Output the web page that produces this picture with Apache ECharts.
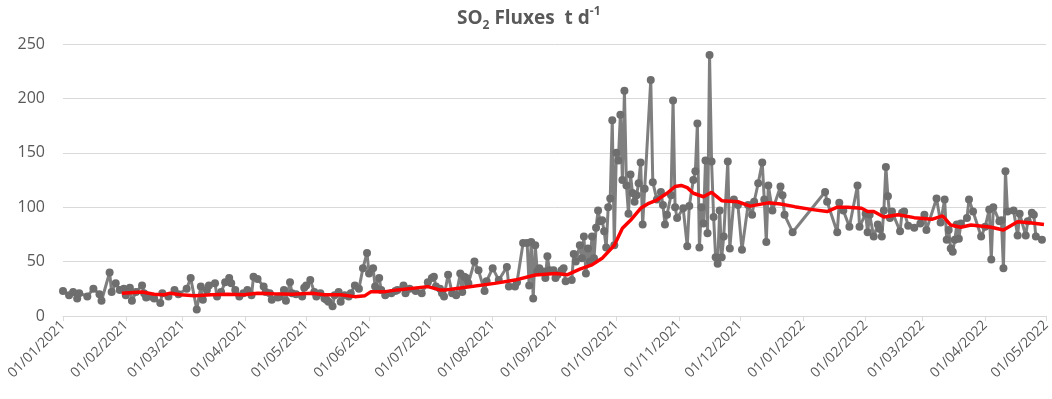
<!DOCTYPE html>
<html>
<head>
<meta charset="utf-8">
<script src="https://cdn.jsdelivr.net/npm/echarts@6/dist/echarts.min.js"></script>
<style>
  html, body { margin: 0; padding: 0; background: #fff; }
  #chart { width: 1052px; height: 399px; }
</style>
</head>
<body>
<div id="chart"></div>
<script>
// daily SO2 flux measurements (t/d)
const fluxDates = [
  '2021-01-01','2021-01-04','2021-01-06','2021-01-08','2021-01-09','2021-01-13','2021-01-16','2021-01-19','2021-01-20','2021-01-24',
  '2021-01-25','2021-01-27','2021-01-29','2021-01-31','2021-02-01','2021-02-03','2021-02-04','2021-02-06','2021-02-09','2021-02-10',
  '2021-02-11','2021-02-13','2021-02-15','2021-02-18','2021-02-19','2021-02-22','2021-02-25','2021-02-27','2021-03-03','2021-03-05',
  '2021-03-08','2021-03-10','2021-03-11','2021-03-13','2021-03-14','2021-03-17','2021-03-18','2021-03-20','2021-03-22','2021-03-24',
  '2021-03-25','2021-03-27','2021-03-29','2021-03-31','2021-04-02','2021-04-04','2021-04-05','2021-04-07','2021-04-10','2021-04-11',
  '2021-04-13','2021-04-14','2021-04-17','2021-04-18','2021-04-20','2021-04-21','2021-04-23','2021-04-24','2021-04-26','2021-04-29',
  '2021-04-30','2021-05-01','2021-05-03','2021-05-05','2021-05-06','2021-05-08','2021-05-10','2021-05-11','2021-05-12','2021-05-14',
  '2021-05-15','2021-05-17','2021-05-18','2021-05-20','2021-05-22','2021-05-23','2021-05-25','2021-05-27','2021-05-29','2021-05-31',
  '2021-06-01','2021-06-03','2021-06-04','2021-06-06','2021-06-07','2021-06-09','2021-06-12','2021-06-14','2021-06-15','2021-06-18',
  '2021-06-19','2021-06-21','2021-06-24','2021-06-27','2021-06-30','2021-07-02','2021-07-03','2021-07-04','2021-07-06','2021-07-07',
  '2021-07-08','2021-07-10','2021-07-12','2021-07-14','2021-07-16','2021-07-17','2021-07-18','2021-07-19','2021-07-20','2021-07-23',
  '2021-07-25','2021-07-28','2021-07-29','2021-08-01','2021-08-04','2021-08-08','2021-08-09','2021-08-12','2021-08-13','2021-08-16',
  '2021-08-18','2021-08-19','2021-08-20','2021-08-21','2021-08-22','2021-08-23','2021-08-24','2021-08-26','2021-08-27','2021-08-28',
  '2021-08-29','2021-08-31','2021-09-01','2021-09-02','2021-09-04','2021-09-05','2021-09-06','2021-09-09','2021-09-10','2021-09-11',
  '2021-09-13','2021-09-14','2021-09-15','2021-09-16','2021-09-17','2021-09-18','2021-09-19','2021-09-20','2021-09-21','2021-09-22',
  '2021-09-23','2021-09-24','2021-09-25','2021-09-26','2021-09-27','2021-09-28','2021-09-29','2021-09-30','2021-10-01','2021-10-02',
  '2021-10-03','2021-10-04','2021-10-05','2021-10-06','2021-10-07','2021-10-08','2021-10-09','2021-10-10','2021-10-11','2021-10-12',
  '2021-10-13','2021-10-14','2021-10-15','2021-10-18','2021-10-19','2021-10-21','2021-10-23','2021-10-24','2021-10-25','2021-10-26',
  '2021-10-28','2021-10-29','2021-10-30','2021-10-31','2021-11-03','2021-11-05','2021-11-06','2021-11-08','2021-11-09','2021-11-10',
  '2021-11-11','2021-11-12','2021-11-13','2021-11-14','2021-11-15','2021-11-16','2021-11-17','2021-11-18','2021-11-19','2021-11-20',
  '2021-11-21','2021-11-22','2021-11-23','2021-11-25','2021-11-26','2021-11-28','2021-11-30','2021-12-02','2021-12-05','2021-12-07',
  '2021-12-08','2021-12-10','2021-12-12','2021-12-13','2021-12-14','2021-12-15','2021-12-17','2021-12-21','2021-12-22','2021-12-23',
  '2021-12-27','2022-01-12','2022-01-13','2022-01-18','2022-01-19','2022-01-21','2022-01-24','2022-01-28','2022-01-29','2022-02-01',
  '2022-02-02','2022-02-03','2022-02-05','2022-02-07','2022-02-08','2022-02-09','2022-02-10','2022-02-11','2022-02-12','2022-02-13',
  '2022-02-14','2022-02-18','2022-02-19','2022-02-20','2022-02-22','2022-02-25','2022-02-28','2022-03-02','2022-03-03','2022-03-08',
  '2022-03-10','2022-03-12','2022-03-13','2022-03-14','2022-03-15','2022-03-16','2022-03-17','2022-03-18','2022-03-19','2022-03-20',
  '2022-03-23','2022-03-24','2022-03-26','2022-03-30','2022-04-01','2022-04-03','2022-04-04','2022-04-05','2022-04-08','2022-04-09',
  '2022-04-10','2022-04-11','2022-04-12','2022-04-15','2022-04-17','2022-04-18','2022-04-21','2022-04-22','2022-04-24','2022-04-25',
  '2022-04-26','2022-04-29'
];
const fluxValues = [
  23,19,22,16,21,18,25,20,14,40,
  22,30,24,25,19,26,14,22,28,21,
  17,18,16,12,21,18,24,20,25,35,
  6,27,15,24,28,30,18,22,31,35,
  30,24,18,21,24,19,36,34,27,22,
  21,15,17,18,24,14,31,21,20,18,
  26,28,33,22,18,21,16,15,13,9,
  19,22,13,19,18,21,28,25,44,58,
  39,44,27,35,24,19,21,23,24,28,
  21,25,23,21,31,35,36,27,25,21,
  18,38,21,19,39,22,36,35,30,50,
  42,23,32,44,33,45,27,27,31,67,
  67,28,68,16,65,41,44,41,35,55,
  42,42,35,38,42,44,32,33,57,50,
  65,53,73,39,62,50,73,53,81,97,
  87,88,78,63,100,108,180,65,150,143,
  185,125,207,120,94,130,113,105,111,122,
  141,84,117,217,123,107,114,102,84,93,
  111,198,100,90,99,64,101,125,133,177,
  63,100,85,143,76,240,142,91,54,48,
  97,54,73,142,62,107,102,61,102,93,
  105,122,141,107,68,120,97,119,111,93,
  77,114,105,77,104,97,82,120,82,94,
  77,93,73,84,80,73,97,137,110,90,
  96,78,95,96,83,81,85,93,79,108,
  86,107,70,79,62,59,70,84,71,85,
  90,107,96,73,82,98,52,100,87,88,
  44,133,96,97,74,94,74,87,95,93,
  73,70
];

// moving-average trend
const trendDates = [
  '2021-01-30','2021-02-09','2021-02-15','2021-02-20','2021-02-23','2021-02-28','2021-03-07','2021-03-15','2021-03-23','2021-03-31',
  '2021-04-07','2021-04-15','2021-04-24','2021-05-04','2021-05-10','2021-05-18','2021-05-25','2021-05-30','2021-06-02','2021-06-09',
  '2021-06-15','2021-06-30','2021-07-06','2021-07-09','2021-07-17','2021-08-02','2021-08-12','2021-08-22','2021-09-01','2021-09-07',
  '2021-09-13','2021-09-19','2021-09-24','2021-09-30','2021-10-04','2021-10-08','2021-10-13','2021-10-17','2021-10-21','2021-10-26',
  '2021-10-30','2021-11-02','2021-11-05','2021-11-08','2021-11-13','2021-11-17','2021-11-22','2021-11-30','2021-12-06','2021-12-15',
  '2021-12-21','2021-12-28','2022-01-05','2022-01-13','2022-01-18','2022-01-23','2022-01-30','2022-02-02','2022-02-05','2022-02-10',
  '2022-02-17','2022-02-25','2022-03-06','2022-03-11','2022-03-15','2022-03-20','2022-03-25','2022-04-04','2022-04-10','2022-04-17',
  '2022-04-23','2022-04-30'
];
const trendValues = [
  21,22,20,19.5,21,19.5,18.7,19.5,20,19.5,
  21,20.5,20,21,19.5,19.5,17.8,18.7,22.4,22.4,
  24,27,24,24,26,30,33,37.7,39,38,
  43,47,53,65,80.6,88,99,103.6,106.6,112.8,
  119,120,118,112.8,109.6,113.7,106,105,101,104,
  103,100.5,98,96,100,100,99,96,96,91,
  93,90.4,89,92,83.6,81.5,83.6,81.5,79,86.7,
  85.8,84
];

// x-axis tick positions (first of each month)
const monthTicks = [
  '2021-01-01','2021-02-01','2021-03-01','2021-04-01','2021-05-01','2021-06-01','2021-07-01','2021-08-01','2021-09-01',
  '2021-10-01','2021-11-01','2021-12-01','2022-01-01','2022-02-01','2022-03-01','2022-04-01','2022-05-01'
];

function toTime(s) {
  const p = s.split('-').map(Number);
  return new Date(p[0], p[1] - 1, p[2]).getTime();
}
function pad(n) { return n < 10 ? '0' + n : '' + n; }

const tickTimes = monthTicks.map(toTime);
const fluxData = fluxDates.map((d, i) => [toTime(d), fluxValues[i]]);
const trendData = trendDates.map((d, i) => [toTime(d), trendValues[i]]);

const textColor = '#595959';
const gridColor = '#d9d9d9';
const font = '"Open Sans", "Liberation Sans", sans-serif';

const chart = echarts.init(document.getElementById('chart'));
chart.setOption({
  animation: false,
  backgroundColor: '#fff',
  title: {
    left: 452,
    top: 1,
    text: '{m|SO}{s|2}{m| Fluxes  t d}{p|-1}',
    textStyle: {
      rich: {
        m: { fontFamily: font, fontSize: 19, fontWeight: 'bold', color: textColor, lineHeight: 26, verticalAlign: 'middle' },
        s: { fontFamily: font, fontSize: 12, fontWeight: 'bold', color: textColor, lineHeight: 12, verticalAlign: 'bottom' },
        p: { fontFamily: font, fontSize: 12, fontWeight: 'bold', color: textColor, lineHeight: 12, verticalAlign: 'top' }
      }
    }
  },
  grid: {
    left: 63,
    right: 6,
    top: 44,
    bottom: 83,
    containLabel: false,
    outerBoundsMode: 'none'
  },
  xAxis: {
    type: 'value',
    min: tickTimes[0],
    max: tickTimes[tickTimes.length - 1],
    axisLine: { show: true, onZero: false, lineStyle: { color: gridColor, width: 1 } },
    axisTick: {
      show: true,
      length: 5,
      lineStyle: { color: gridColor },
      customValues: tickTimes
    },
    splitLine: { show: false },
    axisLabel: {
      customValues: tickTimes,
      rotate: 45,
      margin: 7,
      color: textColor,
      fontFamily: font,
      fontSize: 14,
      formatter: function (val) {
        const d = new Date(val);
        return pad(d.getDate()) + '/' + pad(d.getMonth() + 1) + '/' + d.getFullYear();
      }
    }
  },
  yAxis: {
    type: 'value',
    min: 0,
    max: 250,
    interval: 50,
    axisLine: { show: false },
    axisTick: { show: false },
    splitLine: { show: true, lineStyle: { color: gridColor, width: 1 } },
    axisLabel: { color: textColor, fontFamily: font, fontSize: 16, margin: 18 }
  },
  series: [
    {
      name: 'SO2 flux',
      type: 'line',
      data: fluxData,
      symbol: 'circle',
      symbolSize: 8,
      showAllSymbol: true,
      lineStyle: { color: '#7f7f7f', width: 3 },
      itemStyle: { color: '#6e6e6e', borderWidth: 0 },
      z: 2
    },
    {
      name: 'Moving average',
      type: 'line',
      data: trendData,
      symbol: 'none',
      lineStyle: { color: '#ff0000', width: 3.5 },
      z: 3
    }
  ]
});
</script>
</body>
</html>
